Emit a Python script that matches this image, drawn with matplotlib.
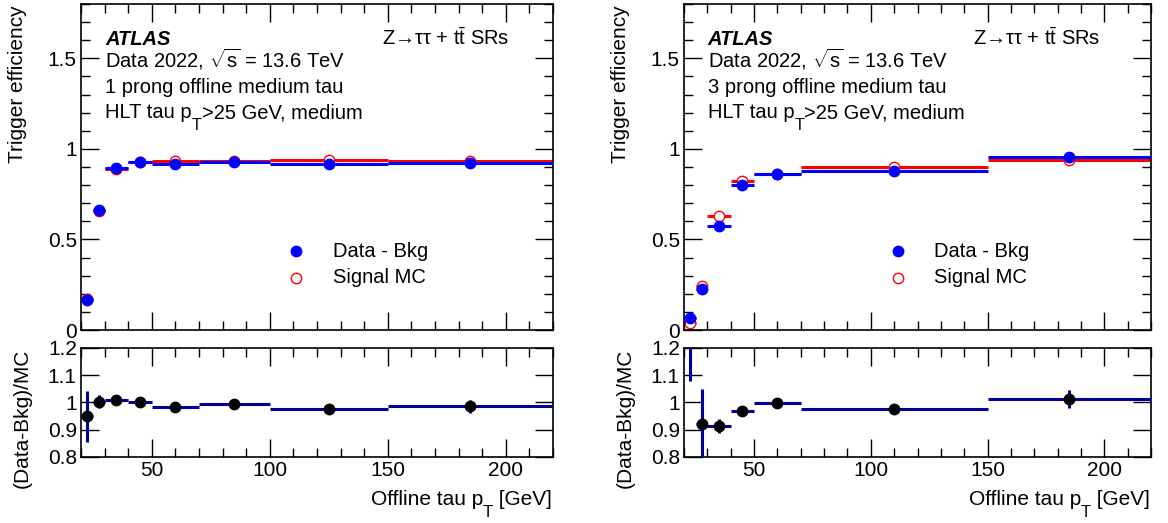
import matplotlib
matplotlib.use('Agg')
import matplotlib.pyplot as plt
import numpy as np
from matplotlib.ticker import MultipleLocator, FuncFormatter
from matplotlib.transforms import offset_copy

plt.rcParams['font.family'] = ['Liberation Sans', 'DejaVu Sans']
plt.rcParams['mathtext.fontset'] = 'custom'
plt.rcParams['mathtext.rm'] = 'Liberation Sans'
plt.rcParams['mathtext.it'] = 'Liberation Sans:italic'
plt.rcParams['mathtext.bf'] = 'Liberation Sans:bold'

# 1 prong
edges_1p = [20, 25, 30, 40, 50, 70, 100, 150, 220]
eff_data_1p = [0.165, 0.660, 0.893, 0.928, 0.917, 0.930, 0.919, 0.924]
eff_data_err_1p = [0.008, 0.008, 0.005, 0.005, 0.004, 0.004, 0.004, 0.006]
eff_mc_1p = [0.172, 0.658, 0.888, 0.928, 0.932, 0.934, 0.939, 0.935]
eff_mc_err_1p = [0.004, 0.004, 0.003, 0.003, 0.002, 0.002, 0.002, 0.003]
ratio_1p = [0.949, 1.003, 1.008, 1.003, 0.985, 0.993, 0.976, 0.986]
ratio_err_1p = [0.095, 0.024, 0.006, 0.005, 0.004, 0.004, 0.004, 0.024]

# 3 prong
edges_3p = [20, 25, 30, 40, 50, 70, 150, 220]
eff_data_3p = [0.065, 0.227, 0.576, 0.800, 0.862, 0.878, 0.956]
eff_data_err_3p = [0.008, 0.010, 0.010, 0.008, 0.006, 0.005, 0.010]
eff_mc_3p = [0.037, 0.245, 0.627, 0.825, 0.862, 0.900, 0.941]
eff_mc_err_3p = [0.004, 0.005, 0.005, 0.004, 0.003, 0.003, 0.005]
ratio_3p = [1.75, 0.921, 0.913, 0.970, 0.997, 0.975, 1.013]
ratio_err_3p = [0.67, 0.13, 0.026, 0.006, 0.005, 0.005, 0.032]

W, H = 1168, 523
fig = plt.figure(figsize=(W / 100, H / 100), dpi=100)
renderer = fig.canvas.get_renderer()

BLUE = '#0000ff'
RED = '#ff0000'
NAVY = '#00009a'
FS = 14.5


def px_axes(x0, x1, y0, y1):
    return fig.add_axes([x0 / W, 1 - y1 / H, (x1 - x0) / W, (y1 - y0) / H])


def sub_text(x, y, parts, fs, trans, ha='left'):
    # ROOT style text: subscripts sit below the baseline
    widths = []
    for s, sub in parts:
        t = fig.text(0, 0, s, fontsize=fs * (0.8 if sub else 1.0))
        widths.append(t.get_window_extent(renderer).width)
        t.remove()
    start = -sum(widths) if ha == 'right' else 0
    pos = start
    for (s, sub), w in zip(parts, widths):
        tr = offset_copy(trans, fig=fig, x=pos, y=-12 if sub else 0,
                         units='dots')
        fig.text(x, y, s, transform=tr, fontsize=fs * (0.8 if sub else 1.0),
                 va='baseline')
        pos += w


def style(ax, ymajor, yminor):
    ax.set_xlim(20, 220)
    ax.xaxis.set_major_locator(MultipleLocator(50))
    ax.xaxis.set_minor_locator(MultipleLocator(10))
    ax.yaxis.set_major_locator(MultipleLocator(ymajor))
    if yminor:
        ax.yaxis.set_minor_locator(MultipleLocator(yminor))
    ax.yaxis.set_major_formatter(FuncFormatter(lambda v, p: '%g' % round(v, 3)))
    ax.tick_params(which='both', direction='in', top=True, right=True,
                   width=1, labelsize=15, pad=3)
    ax.tick_params(which='major', length=13)
    ax.tick_params(which='minor', length=6.5)
    for s in ax.spines.values():
        s.set_linewidth(1.2)


def panel(x0, x1, edges, eff_d, err_d, eff_m, err_m, ratio, rerr, prong,
          ztext_x, leg_x):
    edges = np.array(edges)
    cen = 0.5 * (edges[1:] + edges[:-1])
    hw = 0.5 * (edges[1:] - edges[:-1])

    ax = px_axes(x0, x1, 4, 330)
    style(ax, 0.5, 0.1)
    ax.set_ylim(0, 1.8)
    ax.tick_params(labelbottom=False)
    ax.errorbar(cen, eff_m, xerr=hw, yerr=err_m, fmt='o', color=RED,
                mfc='white', mec=RED, ms=7.5, mew=1, lw=2.2, zorder=2)
    ax.errorbar(cen, eff_d, xerr=hw, yerr=err_d, fmt='o', color=BLUE,
                mfc=BLUE, mec=BLUE, ms=7.5, lw=2.2, zorder=3)

    ax.text(0.051, 0.874, 'ATLAS', transform=ax.transAxes, fontsize=FS,
            fontweight='bold', fontstyle='italic')
    ax.text(0.051, 0.805, r'Data 2022, $\sqrt{\mathrm{s}}$ = 13.6 TeV',
            transform=ax.transAxes, fontsize=FS)
    ax.text(0.051, 0.728, '%d prong offline medium tau' % prong,
            transform=ax.transAxes, fontsize=FS)
    sub_text(0.051, 0.650, [('HLT tau p', False), ('T', True),
                            ('>25 GeV, medium', False)], FS, ax.transAxes)
    ax.text(ztext_x, 0.874, 'Z\u2192\u03c4\u03c4 + t$\\bar{\\mathrm{t}}$ SRs',
            transform=ax.transAxes, fontsize=FS)

    ax.plot([leg_x], [0.242], 'o', color=BLUE, ms=7.5, transform=ax.transAxes)
    ax.plot([leg_x], [0.160], 'o', mfc='white', mec=RED, ms=7.5,
            transform=ax.transAxes)
    ax.text(leg_x + 0.078, 0.242, 'Data - Bkg', transform=ax.transAxes,
            fontsize=FS, va='center')
    ax.text(leg_x + 0.078, 0.160, 'Signal MC', transform=ax.transAxes,
            fontsize=FS, va='center')

    rx = px_axes(x0, x1, 348, 457)
    style(rx, 0.1, None)
    rx.set_ylim(0.8, 1.2)
    rx.errorbar(cen, ratio, xerr=hw, yerr=rerr, fmt='o', ecolor=NAVY,
                mfc='black', mec='black', ms=7.5, lw=2.2, zorder=3)

    fig.text((x0 - 63) / W, 1 - 5 / H, 'Trigger efficiency', rotation=90,
             ha='center', va='top', fontsize=15)
    fig.text((x0 - 59) / W, 1 - 349 / H, '(Data-Bkg)/MC', rotation=90,
             ha='center', va='top', fontsize=15)
    sub_text((x1 - 1) / W, 1 - 505 / H, [('Offline tau p', False), ('T', True),
                                         (' [GeV]', False)], 15,
             fig.transFigure, ha='right')


panel(81, 553, edges_1p, eff_data_1p, eff_data_err_1p, eff_mc_1p,
      eff_mc_err_1p, ratio_1p, ratio_err_1p, 1, 0.637, 0.455)
panel(684, 1151, edges_3p, eff_data_3p, eff_data_err_3p, eff_mc_3p,
      eff_mc_err_3p, ratio_3p, ratio_err_3p, 3, 0.619, 0.458)

fig.savefig('out.png', dpi=100)
